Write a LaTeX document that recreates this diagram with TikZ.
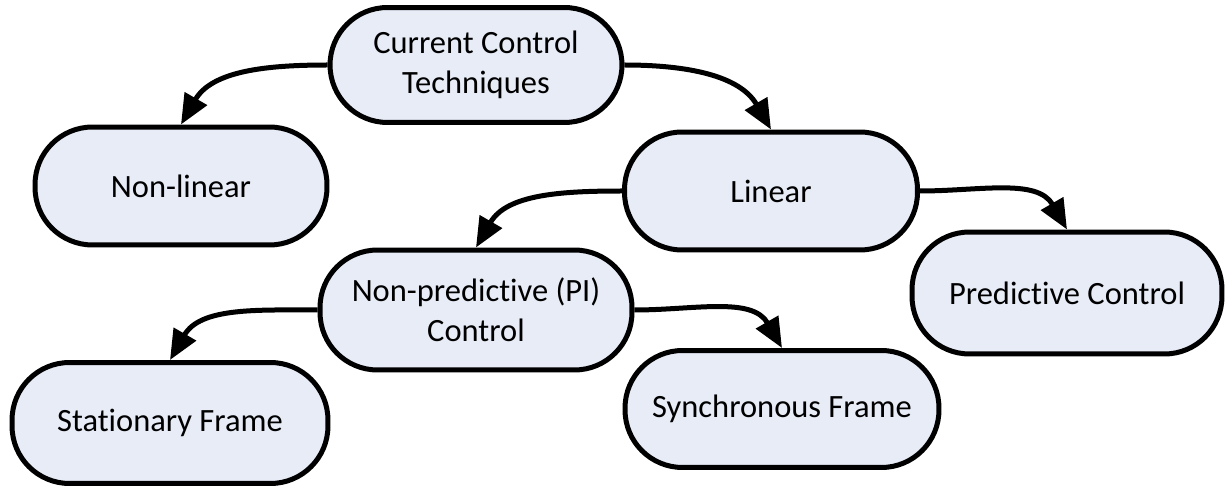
\documentclass[tikz,border=0pt]{standalone}
\usepackage{fontspec}
\setmainfont[Ligatures={NoCommon}]{Carlito}
\usepackage{tikz}
\usetikzlibrary{positioning, arrows.meta}
\definecolor{boxfill}{RGB}{231,236,247}
\tikzset{
>={Triangle[length=0.6cm, width=0.5cm]}, % big filled heads
every edge/.style={draw, ->, line width=0.1cm}, % all links are thick arrows
block/.style={draw, line width=0.1cm, fill=boxfill, rounded corners=1.15cm,
  align=center, font=\fontsize{18.5}{22.5}\selectfont}, % rounded boxes
}

\begin{document}
\begin{tikzpicture}[x=0.02cm, y=-0.02cm]
        \useasboundingbox (0,0) rectangle (1228,489);

        \node[block, minimum width=5.84cm, minimum height=2.3cm] (cct) at (476,65) {Current Control\\Techniques};
        \node[block, minimum width=5.84cm, minimum height=2.36cm] (nonlin) at (181,186) {Non-linear};
        \node[block, minimum width=5.86cm, minimum height=2.36cm] (lin) at (771,191) {Linear};
        \node[block, minimum width=6.24cm, minimum height=2.4cm] (np) at (476,310) {Non-predictive (PI)\\Control};
        \node[block, minimum width=6.2cm, minimum height=2.44cm] (pred) at (1067,293) {Predictive Control};
        \node[block, minimum width=6.32cm, minimum height=2.42cm] (stat) at (170,423) {Stationary Frame};
        \node[block, minimum width=6.28cm, minimum height=2.34cm] (sync) at (782,409) {Synchronous Frame};

        \draw (cct.west) edge[out=180, in=60] (nonlin.north)
        (cct.east) edge[out=0, in=120] (lin.north)
        (lin.west) edge[out=180, in=60] (np.north)
        (lin.east) edge[out=0, in=120] (pred.north)
        (np.west) edge[out=180, in=60] (stat.north)
        (np.east) edge[out=0, in=120] (sync.north);
      \end{tikzpicture}
\end{document}
